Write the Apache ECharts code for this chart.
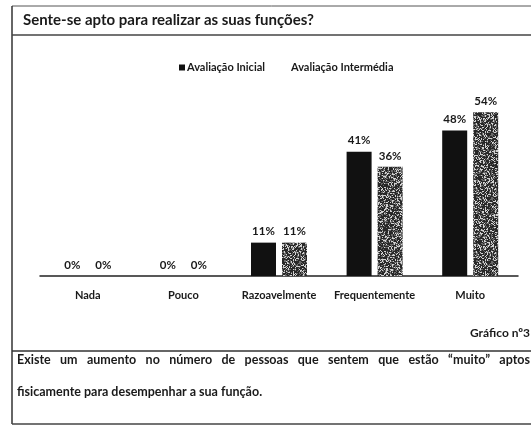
<!DOCTYPE html>
<html><head><meta charset="utf-8">
<script src="https://cdn.jsdelivr.net/npm/echarts@6/dist/echarts.min.js"></script>
<style>html,body{margin:0;padding:0;background:#fff}#c{width:531px;height:426px}</style>
</head><body><div id="c"></div>
<script>
const categories = ['Nada', 'Pouco', 'Razoavelmente', 'Frequentemente', 'Muito'];
const seriesNames = ['Avaliação Inicial', 'Avaliação Intermédia'];
const inicial = [0, 0, 11, 41, 48];
const intermedia = [0, 0, 11, 36, 54];
const captionLine1 = 'Existe um aumento no número de pessoas que sentem que estão “muito” aptos';
const captionLine2 = 'fisicamente para desempenhar a sua função.';

// halftone-like texture for the scanned grey bars (deterministic murmur-style hash)
function hash(n) {
  n = Math.imul(n ^ (n >>> 16), 0x85ebca6b);
  n = Math.imul(n ^ (n >>> 13), 0xc2b2ae35);
  return (n ^ (n >>> 16)) >>> 0;
}
function makePattern() {
  const s = 64, cv = document.createElement('canvas');
  cv.width = s; cv.height = s;
  const ctx = cv.getContext('2d');
  const img = ctx.createImageData(s, s);
  for (let y = 0; y < s; y++) for (let x = 0; x < s; x++) {
    const r = hash(y * s + x + 12345) % 100;
    const v = r < 52 ? 40 : (r < 78 ? 105 : 210);
    const i = (y * s + x) * 4;
    img.data[i] = img.data[i + 1] = img.data[i + 2] = v; img.data[i + 3] = 255;
  }
  ctx.putImageData(img, 0, 0);
  return cv;
}
const pat = makePattern();

const FONT = 'Lato';
const CAP_FONT = 'bold 12.5px Lato';

// justified first caption line
function justifiedWords(text, x0, x1, top) {
  const words = text.split(' ');
  const ctx = document.createElement('canvas').getContext('2d');
  ctx.font = CAP_FONT;
  const widths = words.map(w => ctx.measureText(w).width);
  const total = widths.reduce((a, b) => a + b, 0);
  const gap = (x1 - x0 - total) / (words.length - 1);
  let x = x0;
  return words.map((w, i) => {
    const el = { type: 'text', x: x, y: top, style: { text: w, fontFamily: FONT, fontSize: 12.5, fontWeight: 'bold', fill: '#1a1a1a' } };
    x += widths[i] + gap;
    return el;
  });
}

const chart = echarts.init(document.getElementById('c'));
const lbl = { show: true, position: 'top', distance: 5, formatter: '{c}%', fontFamily: FONT, fontSize: 11.5, fontWeight: 'bold', color: '#1a1a1a' };
chart.setOption({
  backgroundColor: '#ffffff',
  animation: false,
  textStyle: { fontFamily: FONT },
  title: {
    text: 'Sente-se apto para realizar as suas funções?',
    left: 18, top: 8,
    textStyle: { fontFamily: FONT, fontSize: 15, fontWeight: 'bold', color: '#1a1a1a' }
  },
  legend: {
    left: 174, top: 57,
    itemWidth: 6, itemHeight: 6, itemGap: 18, icon: 'rect',
    textStyle: { fontFamily: FONT, fontSize: 11, fontWeight: 'bold', color: '#1a1a1a', padding: [0, 0, 0, -3] },
    data: [
      { name: seriesNames[0] },
      { name: seriesNames[1], itemStyle: { opacity: 0 } }
    ]
  },
  grid: { left: 40, right: 13, top: 94, bottom: 150 },
  xAxis: {
    type: 'category', data: categories,
    axisLine: { lineStyle: { color: '#222', width: 1.5 } },
    axisTick: { show: false },
    axisLabel: { interval: 0, fontFamily: FONT, fontSize: 11, fontWeight: 'bold', color: '#1a1a1a', margin: 14 }
  },
  yAxis: { type: 'value', min: 0, max: 60, show: false, splitLine: { show: false } },
  series: [
    {
      name: seriesNames[0], type: 'bar', data: inicial, barWidth: 25, barGap: '24%',
      itemStyle: { color: '#111' }, label: lbl
    },
    {
      name: seriesNames[1], type: 'bar', data: intermedia, barWidth: 25,
      itemStyle: { color: { image: pat, repeat: 'repeat' } }, label: lbl
    }
  ],
  graphic: [
    { type: 'line', shape: { x1: 12, y1: 6, x2: 531, y2: 6 }, style: { stroke: '#555', lineWidth: 1 } },
    { type: 'line', shape: { x1: 12, y1: 6, x2: 12, y2: 424 }, style: { stroke: '#333', lineWidth: 1.5 } },
    { type: 'line', shape: { x1: 12, y1: 35, x2: 531, y2: 35 }, style: { stroke: '#444', lineWidth: 1.5 } },
    { type: 'line', shape: { x1: 12, y1: 351, x2: 531, y2: 351 }, style: { stroke: '#333', lineWidth: 1.5 } },
    { type: 'line', shape: { x1: 12, y1: 424, x2: 531, y2: 424 }, style: { stroke: '#444', lineWidth: 1.5 } },
    { type: 'text', left: 470, top: 327, style: { text: 'Gráfico nº3', fontFamily: FONT, fontSize: 12, fontWeight: 'bold', fill: '#1a1a1a' } },
    ...justifiedWords(captionLine1, 17, 530, 353),
    { type: 'text', left: 17, top: 385, style: { text: captionLine2, fontFamily: FONT, fontSize: 12.5, fontWeight: 'bold', fill: '#1a1a1a' } }
  ]
});
</script></body></html>
